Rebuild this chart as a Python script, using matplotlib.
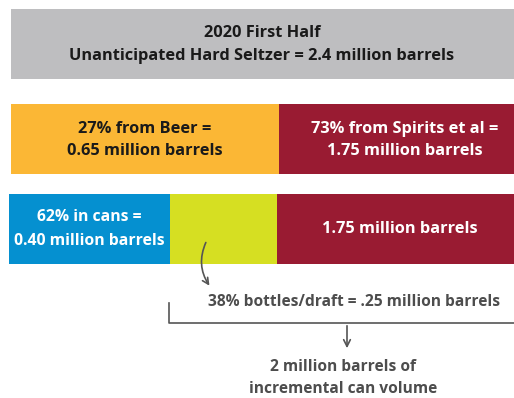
import matplotlib.pyplot as plt
from matplotlib.patches import FancyArrowPatch

# diagram data (segment widths in pixel-like units of the layout)
title_lines = ["2020 First Half", "Unanticipated Hard Seltzer = 2.4 million barrels"]
source_labels = ["27% from Beer =\n0.65 million barrels", "73% from Spirits et al =\n1.75 million barrels"]
source_widths = [268, 246]
pack_labels = ["62% in cans =\n0.40 million barrels", "", "1.75 million barrels"]
pack_widths = [161, 107, 246]
bottle_note = "38% bottles/draft = .25 million barrels"
result_note = "2 million barrels of\nincremental can volume"

plt.rcParams['font.family'] = ['Open Sans', 'DejaVu Sans']
FS = 11.8
FS_NOTE = 11.2

fig = plt.figure(figsize=(5.14, 3.98), dpi=100)
ax = fig.add_axes([0, 0, 1, 1])
ax.set_xlim(0, 514)
ax.set_ylim(398, 0)
ax.axis('off')

# title box
ax.barh(44, 503, left=11, height=70, color='#BEBEC0')
ax.text(262, 33, title_lines[0], ha='center', va='center', fontsize=FS, fontweight='bold', color='#1a1a1a')
ax.text(262, 56, title_lines[1], ha='center', va='center', fontsize=FS, fontweight='bold', color='#1a1a1a')

# source row
src_colors = ['#FBB735', '#991B32']
src_text = ['#1a1a1a', 'white']
left = 11
for w, c, lab, tc in zip(source_widths, src_colors, source_labels, src_text):
    ax.barh(139, w, left=left, height=70, color=c)
    ax.text(left + w / 2 + (0 if tc != 'white' else 3), 140, lab, ha='center', va='center',
            fontsize=FS, fontweight='bold', color=tc, linespacing=1.55)
    left += w

# packaging row
pk_colors = ['#0590D0', '#D6DF22', '#991B32']
left = 9
for w, c, lab in zip(pack_widths, pk_colors, pack_labels):
    ax.barh(229, w, left=left, height=70, color=c)
    if lab:
        fs = FS - 0.5 if c == '#0590D0' else FS
        ax.text(left + w / 2 + (0 if c != '#991B32' else 0), 229, lab, ha='center', va='center',
                fontsize=fs, fontweight='bold', color='white', linespacing=1.6)
    left += w

gray = '#555555'
# curved arrow from bottles segment
arr = FancyArrowPatch((207, 240), (211, 288), connectionstyle='arc3,rad=0.3',
                      arrowstyle='->', mutation_scale=11, color=gray, lw=1.2)
ax.add_patch(arr)
ax.text(354, 302, bottle_note, ha='center', va='center', fontsize=FS_NOTE, fontweight='bold', color='#4D4D4D')

# bracket
ax.plot([169, 169, 514], [303, 323, 323], color=gray, lw=1.2)
ax.annotate('', xy=(347, 351), xytext=(347, 323),
            arrowprops=dict(arrowstyle='->', color=gray, lw=1.2, mutation_scale=12))
ax.text(343, 378, result_note, ha='center', va='center', fontsize=FS_NOTE, fontweight='bold',
        color='#4D4D4D', linespacing=1.5)

fig.savefig('out.png', dpi=100)
